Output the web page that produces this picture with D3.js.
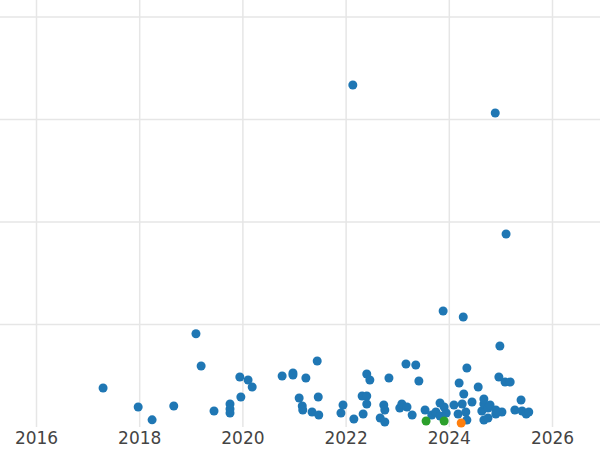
<!DOCTYPE html>
<html>
<head>
<meta charset="utf-8">
<script src="https://cdn.jsdelivr.net/npm/d3@7"></script>
<style>
body { margin: 0; background: #fff; }
text { font-family: "DejaVu Sans", sans-serif; }
</style>
</head>
<body>
<svg id="chart" width="600" height="450"></svg>
<script>
// [year, value]
const bluePoints = [
	[2017.30,38],[2017.98,19.5],[2018.25,7],[2018.67,20.5],[2019.10,91],[2019.20,59.5],
	[2019.45,15.6],[2019.76,22.4],[2019.76,17.6],[2019.76,13.7],[2019.95,48.8],[2019.97,29.3],
	[2020.11,45.9],[2020.19,39],[2020.77,49.8],[2020.98,52.7],[2020.98,50.7],[2021.10,28.3],
	[2021.16,20.5],[2021.17,16.6],[2021.23,47.8],[2021.35,14.6],[2021.45,64.4],[2021.47,29.3],
	[2021.48,11.7],[2021.91,13.7],[2021.95,21.5],[2022.14,333.7],[2022.16,7.8],[2022.32,30.2],
	[2022.34,12.7],[2022.41,51.7],[2022.41,30.2],[2022.41,22.4],[2022.47,45.9],[2022.67,8.8],
	[2022.74,21.5],[2022.76,4.9],[2022.76,16.6],[2022.84,47.8],[2023.05,18.5],[2023.09,22.4],
	[2023.17,61.5],[2023.19,19.5],[2023.29,11.7],[2023.36,60.5],[2023.42,44.9],[2023.54,16.6],
	[2023.67,11.7],[2023.75,14.6],[2023.83,23.4],[2023.83,10.7],[2023.89,113.2],[2023.91,19.5],
	[2023.95,13.7],[2024.10,21.5],[2024.18,12.7],[2024.20,42.9],[2024.26,22.4],[2024.28,107.3],
	[2024.29,32.2],[2024.33,14.6],[2024.35,6.8],[2024.35,57.6],[2024.45,24.4],[2024.57,39],
	[2024.64,15.6],[2024.68,22.4],[2024.68,27.3],[2024.68,6.8],[2024.76,18.5],[2024.76,8.8],
	[2024.80,21.5],[2024.90,306.3],[2024.91,12.7],[2024.91,16.6],[2024.97,48.8],[2024.99,79],
	[2025.03,14.6],[2025.09,43.9],[2025.11,188.3],[2025.19,43.9],[2025.28,16.6],[2025.40,26.3],
	[2025.42,15.6],[2025.50,12.7],[2025.55,14.6],[2024.95,14.6]
]
const greenPoints = [[2023.56,5.9],[2023.91,5.9]]
const orangePoints = [[2024.24,3.9]]
const xTicks = [2016, 2018, 2020, 2022, 2024, 2026]
const yGrid = [100, 200, 300, 400]

const svg = d3.select("#chart")

let x = d3.scaleLinear().domain([2016, 2026]).range([36, 552])
let y = d3.scaleLinear().domain([0, 400]).range([427, 17])

svg.append("g")
	.selectAll("line")
	.data(yGrid)
	.join("line")
	.attr("x1", 0).attr("x2", 600)
	.attr("y1", d => y(d)).attr("y2", d => y(d))
	.attr("stroke", "#e6e6e6").attr("stroke-width", 1.5)

let xAxis = svg.append("g")
	.attr("transform", "translate(0,427)")
	.call(d3.axisBottom(x).tickValues(xTicks).tickFormat(d3.format("d")).tickSize(-427).tickPadding(5))
xAxis.select(".domain").remove()
xAxis.selectAll(".tick line").attr("stroke", "#e6e6e6").attr("stroke-width", 1.5)
xAxis.selectAll(".tick text").attr("fill", "#444").style("font-size", "17px")

function drawPoints(data, color) {
	svg.append("g")
		.selectAll("circle")
		.data(data)
		.join("circle")
		.attr("cx", d => x(d[0]))
		.attr("cy", d => y(d[1]))
		.attr("r", 4.5)
		.attr("fill", color)
}

drawPoints(bluePoints, "#1f77b4")
drawPoints(greenPoints, "#2ca02c")
drawPoints(orangePoints, "#ff7f0e")
</script>
</body>
</html>
